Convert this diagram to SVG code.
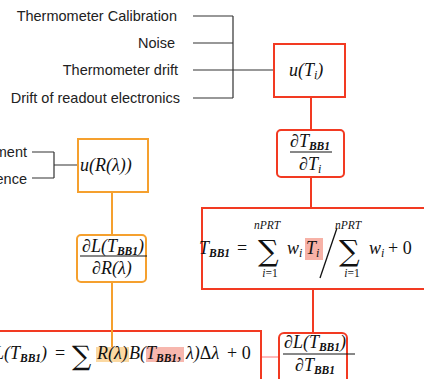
<svg xmlns="http://www.w3.org/2000/svg" width="424" height="379" viewBox="0 0 424 379">
<style>
.lbl{font-family:"Liberation Sans",Arial,sans-serif;font-size:14.5px;fill:#222;text-anchor:end}
.m{font-family:"Liberation Serif","DejaVu Serif",serif;font-style:italic;font-size:18px;fill:#111}
.up{font-style:normal}
.s{font-size:11.5px;font-weight:bold}
.si{font-size:12px;font-weight:normal}
.sm{font-family:"Liberation Serif","DejaVu Serif",serif;font-style:italic;font-size:11.5px;fill:#111;text-anchor:middle}
.sig{font-family:"DejaVu Serif",serif;font-style:normal;fill:#111}
.rbox{fill:#fff;stroke:#f23a22;stroke-width:2}
.obox{fill:#fff;stroke:#f5a02e;stroke-width:2}
.wire{stroke:#333;stroke-width:1.2;fill:none}
.rl{stroke:#f23a22;stroke-width:2;fill:none}
.ol{stroke:#f5a02e;stroke-width:2;fill:none}
.frac{stroke:#111;stroke-width:1}
</style>
<rect width="424" height="379" fill="#fff"/>

<g id="labels">
<text class="lbl" x="177" y="21">Thermometer Calibration</text>
<text class="lbl" x="175" y="48">Noise</text>
<text class="lbl" x="178" y="75">Thermometer drift</text>
<text class="lbl" x="180" y="103">Drift of readout electronics</text>
<text class="lbl" x="27" y="157">ment</text>
<text class="lbl" x="27" y="184">ence</text>
</g>

<g id="connectors">
<path class="wire" d="M193,16H233M193,43H233M193,70H233M193,98H233M233,16V98"/>
<path class="wire" d="M233,70H274" stroke-width="1.8"/>
<path class="wire" stroke="#555" d="M32,152H54M32,178H54M54,152V178M54,165H78"/>
<path class="rl" d="M311,97V130M311,177V208M313,289V333"/>
<path class="ol" d="M112,192V235"/>
<path d="M261,357H279" stroke="#f77" stroke-width="1"/>
</g>

<g id="uTi">
<rect class="rbox" x="274" y="44" width="71" height="53"/>
<text class="m" x="289" y="76" font-size="19">u(T<tspan class="si" dy="3">i</tspan><tspan dy="-3">)</tspan></text>
</g>

<g id="dTdTi">
<rect class="rbox" x="277" y="130" width="67" height="47" rx="4"/>
<text class="m" x="290" y="147" font-size="17">∂T<tspan class="s" dy="3">BB1</tspan></text>
<line class="frac" x1="290" y1="152" x2="332" y2="152"/>
<text class="m" x="299" y="170" font-size="17.5">∂T<tspan class="si" dy="3">i</tspan></text>
</g>

<g id="TBB1">
<rect class="rbox" x="202" y="208" width="230" height="81"/>
<rect x="305" y="238" width="18" height="22" fill="#f7b2a7"/>
<text class="m" x="199" y="254" font-size="19">T<tspan class="s" dy="3">BB1</tspan></text>
<text class="m up" x="237" y="254" font-size="19">=</text>
<text class="sig" x="258" y="261" font-size="29">∑</text>
<text class="sm" x="267" y="229">nPRT</text>
<text class="sm" x="270" y="277">i<tspan font-style="normal">=1</tspan></text>
<text class="m" x="287" y="254" font-size="19">w<tspan class="si" dy="3">i</tspan></text>
<text class="m" x="306" y="254" font-size="19">T<tspan class="si" dy="3">i</tspan></text>
<line x1="320" y1="278" x2="337" y2="228" stroke="#111" stroke-width="1.3"/>
<text class="sig" x="339" y="261" font-size="29">∑</text>
<text class="sm" x="348" y="229">nPRT</text>
<text class="sm" x="352" y="277">i<tspan font-style="normal">=1</tspan></text>
<text class="m" x="369" y="254" font-size="19">w<tspan class="si" dy="3">i</tspan></text>
<text class="m up" x="388" y="254" font-size="19">+ 0</text>
</g>

<g id="uR">
<rect class="obox" x="78" y="139" width="70" height="53"/>
<text class="m" x="80" y="171" font-size="19.5">u(R(λ))</text>
</g>

<g id="dLdR">
<rect class="obox" x="77" y="235" width="69" height="47" rx="4"/>
<text class="m" x="82" y="252" font-size="17">∂L(T<tspan class="s" dy="3">BB1</tspan><tspan dy="-3">)</tspan></text>
<line class="frac" x1="80" y1="256" x2="147" y2="256"/>
<text class="m" x="92" y="274" font-size="17.5">∂R(λ)</text>
</g>

<g id="Lformula">
<rect class="rbox" x="-3" y="331" width="264" height="60"/>
<rect x="96" y="347" width="33" height="15" fill="#fbd9a3"/>
<rect x="146" y="347" width="38" height="15" fill="#f7b7ae"/>
<text class="m" x="-6" y="359" font-size="19">L</text>
<text class="m" x="4" y="359" font-size="19">(T<tspan class="s" dy="3">BB1</tspan><tspan dy="-3">)</tspan></text>
<text class="m up" x="55" y="359" font-size="19">=</text>
<text class="sig" x="72" y="365" font-size="27">∑</text>
<text class="m" x="97" y="359" font-size="19">R(λ)</text>
<text class="m" x="129" y="359" font-size="19">B(T<tspan class="s" dy="3">BB1</tspan><tspan dy="-3">,</tspan></text>
<text class="m" x="186" y="359" font-size="19">λ)<tspan font-style="normal">Δ</tspan>λ</text>
<text class="m up" x="227" y="359" font-size="19">+ 0</text>
</g>
<path class="ol" d="M112,282V347"/>

<g id="dLdT">
<rect class="rbox" x="279" y="333" width="68" height="55" rx="5"/>
<text class="m" x="284" y="348" font-size="17">∂L(T<tspan class="s" dy="3">BB1</tspan><tspan dy="-3">)</tspan></text>
<line class="frac" x1="283" y1="354" x2="355" y2="354"/>
<text class="m" x="295" y="371" font-size="17">∂T<tspan class="s" dy="3">BB1</tspan></text>
</g>
</svg>
